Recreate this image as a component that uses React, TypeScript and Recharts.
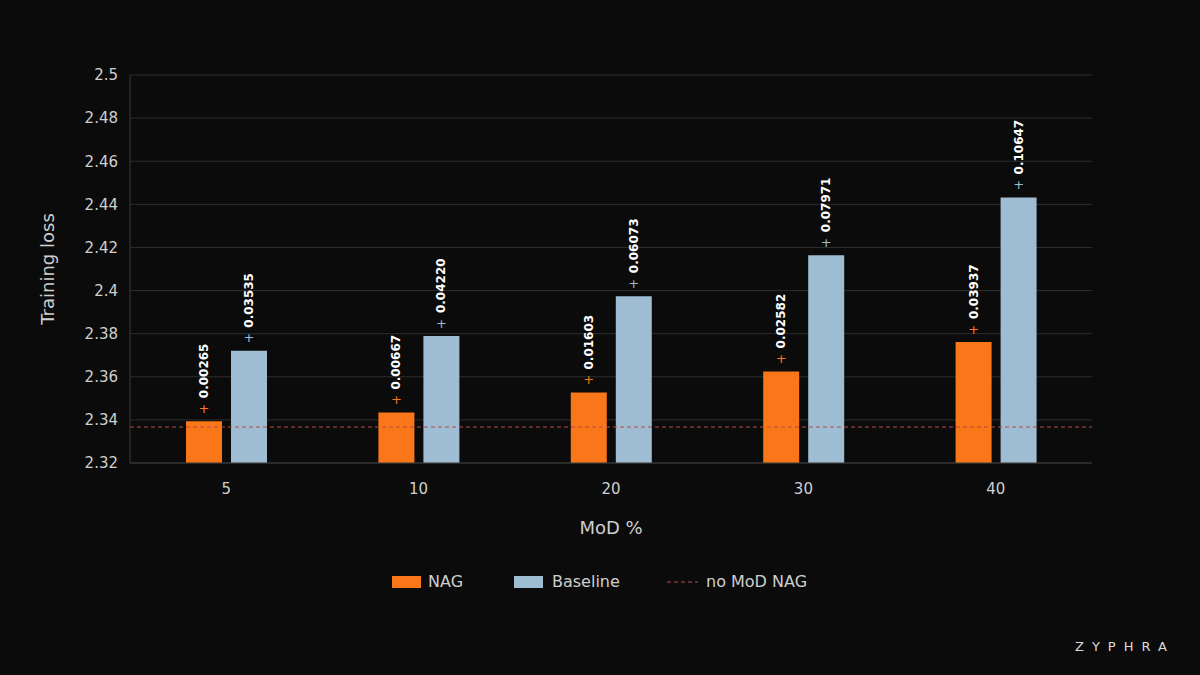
import { BarChart, Bar, XAxis, YAxis, CartesianGrid, ReferenceLine, LabelList } from 'recharts';

const categories = ['5', '10', '20', '30', '40'];
const nagLoss = [2.3394, 2.3434, 2.3527, 2.3625, 2.3761];
const baselineLoss = [2.3721, 2.3789, 2.3974, 2.4164, 2.4432];
const nagDelta = ['0.00265', '0.00667', '0.01603', '0.02582', '0.03937'];
const baselineDelta = ['0.03535', '0.04220', '0.06073', '0.07971', '0.10647'];
const noModNag = 2.3367;
const yTicks = [2.32, 2.34, 2.36, 2.38, 2.4, 2.42, 2.44, 2.46, 2.48, 2.5];

const NAG_COLOR = '#f97619';
const BASE_COLOR = '#9ebcd2';
const REF_COLOR = '#b84a4a';
const TEXT_COLOR = '#cfcfcf';
const FONT = '"DejaVu Sans", sans-serif';

const data = categories.map((c, i) => ({
  mod: c,
  nag: nagLoss[i],
  baseline: baselineLoss[i],
}));

// "+" marker in series colour, then the delta written upward in bold white
const makeDeltaLabel = (color: string, deltas: string[]) => (props: any) => {
  const { x, y, width, index } = props;
  const cx = Number(x) + Number(width) / 2;
  const top = Number(y);
  return (
    <g>
      <text x={cx} y={top - 13} fill={color} fontSize={13} textAnchor="middle" dominantBaseline="central" fontFamily={FONT}>
        +
      </text>
      <text
        x={cx}
        y={top - 23}
        transform={`rotate(-90 ${cx} ${top - 23})`}
        fill="#ffffff"
        fontSize={12}
        fontWeight="bold"
        textAnchor="start"
        dominantBaseline="central"
        fontFamily={FONT}
      >
        {deltas[index]}
      </text>
    </g>
  );
};

const ChartLegend = () => (
  <div style={{ position: 'absolute', left: 0, top: 572, width: 1200, height: 24, fontFamily: FONT, fontSize: 16, color: TEXT_COLOR }}>
    <span style={{ position: 'absolute', left: 392, top: 4, width: 29, height: 12, background: NAG_COLOR }} />
    <span style={{ position: 'absolute', left: 428, top: 0 }}>NAG</span>
    <span style={{ position: 'absolute', left: 514, top: 4, width: 29, height: 12, background: BASE_COLOR }} />
    <span style={{ position: 'absolute', left: 552, top: 0 }}>Baseline</span>
    <svg style={{ position: 'absolute', left: 667, top: 4 }} width={31} height={12}>
      <line x1={0} y1={6} x2={31} y2={6} stroke={REF_COLOR} strokeDasharray="4 3" strokeWidth={1.2} />
    </svg>
    <span style={{ position: 'absolute', left: 706, top: 0 }}>no MoD NAG</span>
  </div>
);

export default function App() {
  return (
    <div style={{ position: 'relative', width: 1200, height: 675, background: '#0b0b0b', overflow: 'hidden' }}>
      <style>{`body{margin:0;background:#0b0b0b}`}</style>
      <BarChart
        width={1200}
        height={675}
        data={data}
        margin={{ top: 75, right: 108, bottom: 182, left: 70 }}
        barSize={36}
        barGap={9}
      >
        <CartesianGrid vertical={false} stroke="#2e2e2e" />
        <XAxis
          dataKey="mod"
          height={30}
          tickLine={false}
          tickSize={6}
          tickMargin={14}
          axisLine={{ stroke: '#3a3a3a' }}
          tick={{ fill: TEXT_COLOR, fontSize: 15, fontFamily: FONT }}
          label={{
            value: 'MoD %',
            position: 'insideBottom',
            offset: -41,
            fill: TEXT_COLOR,
            fontSize: 18,
            fontFamily: FONT,
          }}
        />
        <YAxis
          width={60}
          domain={[2.32, 2.5]}
          ticks={yTicks}
          allowDataOverflow
          tickLine={false}
          tickSize={8}
          tickMargin={4}
          axisLine={{ stroke: '#3a3a3a' }}
          tick={{ fill: TEXT_COLOR, fontSize: 15, fontFamily: FONT }}
          tickFormatter={(v: number) => String(Number(v.toFixed(2)))}
          label={{
            content: () => (
              <text
                x={47}
                y={269}
                transform="rotate(-90 47 269)"
                textAnchor="middle"
                dominantBaseline="central"
                fill={TEXT_COLOR}
                fontSize={18}
                fontFamily={FONT}
              >
                Training loss
              </text>
            ),
          }}
        />
        <Bar dataKey="nag" name="NAG" fill={NAG_COLOR} isAnimationActive={false}>
          <LabelList dataKey="nag" content={makeDeltaLabel(NAG_COLOR, nagDelta)} />
        </Bar>
        <Bar dataKey="baseline" name="Baseline" fill={BASE_COLOR} isAnimationActive={false}>
          <LabelList dataKey="baseline" content={makeDeltaLabel(BASE_COLOR, baselineDelta)} />
        </Bar>
        <ReferenceLine y={noModNag} stroke={REF_COLOR} strokeDasharray="4 3" strokeWidth={1.2} />
      </BarChart>
      <ChartLegend />
      <div
        style={{
          position: 'absolute',
          left: 1075,
          top: 639,
          fontFamily: FONT,
          fontSize: 13,
          letterSpacing: 8,
          color: '#dcdcdc',
        }}
      >
        ZYPHRA
      </div>
    </div>
  );
}
